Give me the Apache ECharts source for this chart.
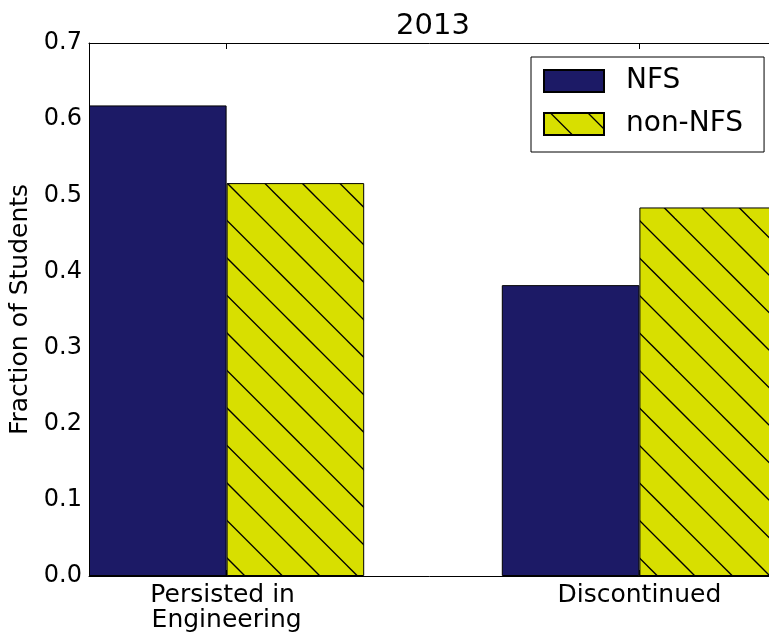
<!DOCTYPE html>
<html>
<head>
<meta charset="utf-8">
<script src="https://cdn.jsdelivr.net/npm/echarts@6/dist/echarts.min.js"></script>
<style>
  html, body { margin: 0; padding: 0; background: #fff; }
  #chart { width: 769px; height: 633px; }
</style>
</head>
<body>
<div id="chart"></div>
<script>
// data
const title = '2013'
const categories = ['Persisted in \nEngineering', 'Discontinued']
const seriesNames = ['NFS', 'non-NFS']
const nfsValues = [0.618, 0.382]
const nonNfsValues = [0.516, 0.484]
const yTicks = [0, 0.1, 0.2, 0.3, 0.4, 0.5, 0.6, 0.7]

const FONT = 'DejaVu Sans'
const NAVY = '#1c1a66'
const YELLOW = '#d8df00'

// "\\" hatch fill, same spacing as matplotlib's
function makeHatch () {
    const size = 75
    const c = document.createElement('canvas')
    c.width = size
    c.height = size
    const ctx = c.getContext('2d')
    ctx.fillStyle = YELLOW
    ctx.fillRect(0, 0, size, size)
    ctx.strokeStyle = '#000'
    ctx.lineWidth = 1.3
    for (let k = -4; k <= 4; k++) {
        const off = 31 + 37.5 * k
        ctx.beginPath()
        ctx.moveTo(-20, -20 + off)
        ctx.lineTo(size + 20, size + 20 + off)
        ctx.stroke()
    }
    return c
}

// bars sit either side of the category tick, 1/3 unit wide each
const barUnit = 1 / 3
const xMin = -1 / 3
const xMax = 4 / 3
const gridLeft = 89
const gridWidth = 688
const barPx = gridWidth / (xMax - xMin) * barUnit
const catTicks = categories.map((_, i) => i)

const chart = echarts.init(document.getElementById('chart'), null, { renderer: 'canvas' })

chart.setOption({
    animation: false,
    title: {
        text: title,
        left: 428,
        textAlign: 'center',
        top: 7,
        textStyle: { fontFamily: FONT, fontSize: 29, fontWeight: 'normal', color: '#000' }
    },
    legend: {
        data: seriesNames,
        orient: 'vertical',
        left: 531,
        top: 57,
        itemWidth: 60,
        itemHeight: 22,
        itemGap: 15,
        icon: 'rect',
        padding: [10, 21, 14, 12],
        borderColor: '#000',
        borderWidth: 1,
        textStyle: { fontFamily: FONT, fontSize: 28, color: '#000', padding: [0, 0, 0, 17] }
    },
    grid: { left: gridLeft, top: 43, width: gridWidth, height: 533, outerBoundsMode: 'none' },
    xAxis: [
        {
            type: 'value', min: xMin, max: xMax, position: 'bottom',
            splitLine: { show: false },
            axisLine: { show: true, onZero: false, lineStyle: { color: '#000', width: 1 } },
            axisTick: { inside: true, length: 6, customValues: catTicks, lineStyle: { color: '#000' } },
            axisLabel: {
                customValues: catTicks,
                formatter: v => categories[Math.round(v)] || '',
                fontFamily: FONT, fontSize: 25, color: '#000', lineHeight: 25, margin: 7
            }
        },
        {
            type: 'value', min: xMin, max: xMax, position: 'top',
            splitLine: { show: false },
            axisLine: { show: true, onZero: false, lineStyle: { color: '#000', width: 1 } },
            axisTick: { inside: true, length: 6, customValues: catTicks, lineStyle: { color: '#000' } },
            axisLabel: { show: false }
        }
    ],
    yAxis: {
        type: 'value',
        min: yTicks[0],
        max: yTicks[yTicks.length - 1],
        interval: 0.1,
        name: 'Fraction of Students',
        nameLocation: 'middle',
        nameGap: 48,
        nameTextStyle: { fontFamily: FONT, fontSize: 25, color: '#000' },
        splitLine: { show: false },
        axisLine: { show: true, onZero: false, lineStyle: { color: '#000', width: 1 } },
        axisTick: { inside: true, length: 6, lineStyle: { color: '#000' } },
        axisLabel: { formatter: v => v.toFixed(1), fontFamily: FONT, fontSize: 24, color: '#000', margin: 7 }
    },
    series: [
        {
            name: seriesNames[0], type: 'bar', barWidth: barPx, barGap: '-100%',
            data: nfsValues.map((v, i) => [i - barUnit / 2, v]),
            itemStyle: { color: NAVY, borderColor: '#000', borderWidth: 1 }
        },
        {
            name: seriesNames[1], type: 'bar', barWidth: barPx, barGap: '-100%',
            data: nonNfsValues.map((v, i) => [i + barUnit / 2, v]),
            itemStyle: { color: { image: makeHatch(), repeat: 'repeat' }, borderColor: '#000', borderWidth: 1 }
        }
    ]
})
</script>
</body>
</html>
